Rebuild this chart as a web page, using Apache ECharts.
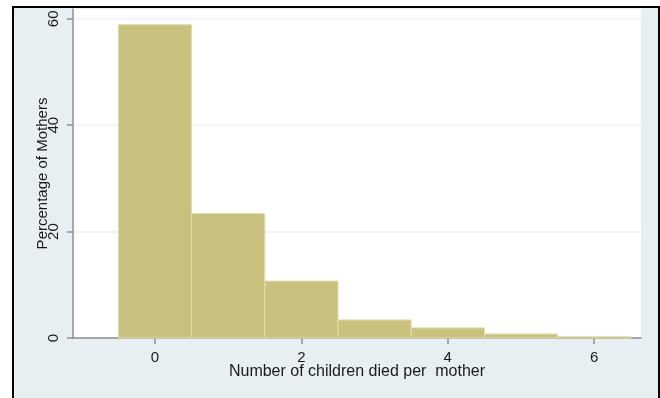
<!DOCTYPE html>
<html>
<head>
<meta charset="utf-8">
<script src="https://cdn.jsdelivr.net/npm/echarts@6/dist/echarts.min.js"></script>
<style>
  html, body { margin: 0; padding: 0; background: #ffffff; }
  #frame {
    position: absolute; left: 12px; top: 6px; width: 644px; height: 400px;
    border: 2px solid #000; background: #e8eff2;
  }
  #chart { position: absolute; left: 0; top: 0; width: 660px; height: 398px; }
</style>
</head>
<body>
<div id="frame"></div>
<div id="chart"></div>
<script>
// Children died per mother (histogram bins, width 1)
const childrenDied = [0, 1, 2, 3, 4, 5, 6];
const percentMothers = [58.9, 23.4, 10.7, 3.4, 1.9, 0.75, 0.25];
const xTicks = [0, 2, 4, 6];
const yTicks = [0, 20, 40, 60];

const chart = echarts.init(document.getElementById('chart'), null, { renderer: 'canvas' });
const font = 'Liberation Sans, Arial, sans-serif';

chart.setOption({
  backgroundColor: 'transparent',
  animation: false,
  grid: {
    left: 73, right: 19, top: 9, bottom: 60,
    show: true, backgroundColor: '#ffffff', borderWidth: 0
  },
  xAxis: {
    type: 'value',
    min: -1.12, max: 6.64,
    name: 'Number of children died per  mother',
    nameLocation: 'middle',
    nameGap: 26,
    nameMoveOverlap: false,
    nameTextStyle: { fontFamily: font, fontSize: 16, color: '#1a1a1a' },
    axisLine: { show: true, onZero: false, lineStyle: { color: '#8f8f8f', width: 1.5 } },
    axisTick: { show: true, length: 6, customValues: xTicks, lineStyle: { color: '#8f8f8f', width: 1.5 } },
    axisLabel: { customValues: xTicks, margin: 12, fontFamily: font, fontSize: 15, color: '#1a1a1a' },
    splitLine: { show: false }
  },
  yAxis: {
    type: 'value',
    min: 0, max: 61.85,
    name: 'Percentage of Mothers',
    nameLocation: 'middle',
    nameRotate: 90,
    nameGap: 23,
    nameMoveOverlap: false,
    nameTextStyle: { fontFamily: font, fontSize: 15, color: '#1a1a1a' },
    axisLine: { show: true, onZero: false, lineStyle: { color: '#8f8f8f', width: 1.5 } },
    axisTick: { show: true, length: 6, customValues: yTicks, lineStyle: { color: '#8f8f8f', width: 1.5 } },
    axisLabel: { customValues: yTicks, rotate: 90, margin: 12, fontFamily: font, fontSize: 15, color: '#1a1a1a' },
    splitLine: { show: true, lineStyle: { color: '#ebf2f4', width: 1.5 } }
  },
  series: [{
    type: 'custom',
    data: childrenDied.map((c, i) => [c, percentMothers[i]]),
    renderItem: function (params, api) {
      const x = api.value(0), y = api.value(1);
      const topLeft = api.coord([x - 0.5, y]);
      const bottomRight = api.coord([x + 0.5, 0]);
      return {
        type: 'rect',
        shape: {
          x: topLeft[0], y: topLeft[1],
          width: bottomRight[0] - topLeft[0],
          height: bottomRight[1] - topLeft[1]
        },
        style: { fill: '#c9c27f', stroke: '#e0dcae', lineWidth: 1 }
      };
    }
  }]
});
</script>
</body>
</html>
